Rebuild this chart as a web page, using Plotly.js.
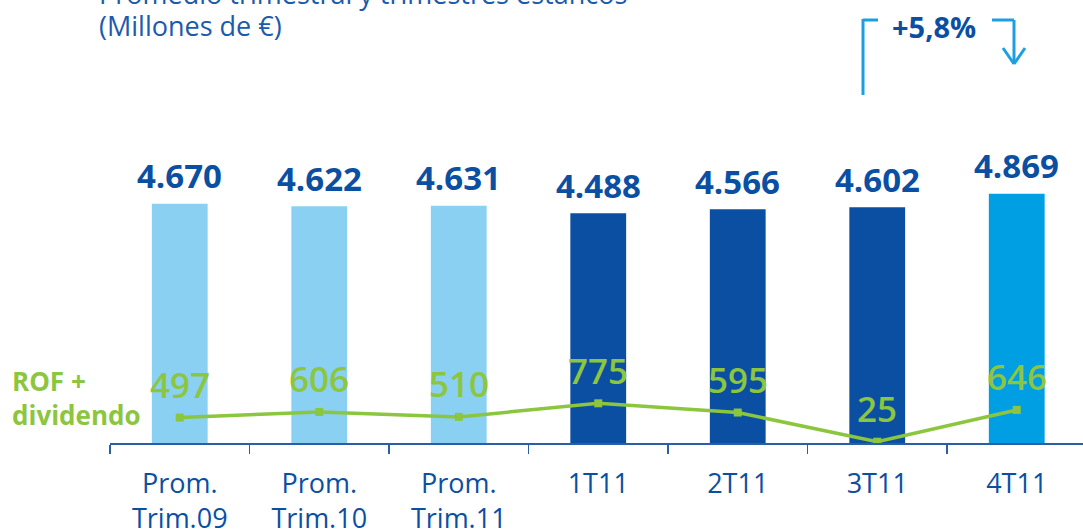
<!DOCTYPE html>
<html><head><meta charset="utf-8">
<script src="https://cdn.plot.ly/plotly-3.0.1.min.js"></script>
<style>html,body{margin:0;padding:0;background:#fff}#chart{width:1083px;height:529px}</style>
</head><body><div id="chart"></div>
<script>
const categories = ["Prom.<br>Trim.09", "Prom.<br>Trim.10", "Prom.<br>Trim.11", "1T11", "2T11", "3T11", "4T11"];
const marginValues = [4670, 4622, 4631, 4488, 4566, 4602, 4869];
const marginLabels = ["4.670", "4.622", "4.631", "4.488", "4.566", "4.602", "4.869"];
const rofValues = [497, 606, 510, 775, 595, 25, 646];
const rofLabels = ["497", "606", "510", "775", "595", "25", "646"];
const barColors = ["#8ad0f2", "#8ad0f2", "#8ad0f2", "#0b4fa3", "#0b4fa3", "#0b4fa3", "#009fe3"];

const W = 1083, H = 529, L = 110, B = 86;
const PW = W - L, PH = H - B;
const px = x => (x - L) / PW;
const py = y => (PH - y) / PH;

const DARK = "#0b4fa3", GREEN = "#8cc63f", LIGHT = "#1aa0e2";
const FONT = "Open Sans, sans-serif";

const bars = {
  type: "bar", x: categories, y: marginValues,
  marker: {color: barColors}, hoverinfo: "skip"
};
const line = {
  type: "scatter", mode: "lines+markers", x: categories, y: rofValues,
  line: {color: GREEN, width: 3.5},
  marker: {symbol: "square", size: 8, color: GREEN}, hoverinfo: "skip"
};

const annotations = [];
categories.forEach((c, i) => {
  annotations.push({x: c, y: marginValues[i], xref: "x", yref: "y", text: marginLabels[i],
    showarrow: false, yanchor: "middle", yshift: 28,
    font: {family: FONT, size: 33, color: DARK, weight: 700}});
  annotations.push({x: c, y: rofValues[i], xref: "x", yref: "y", text: rofLabels[i],
    showarrow: false, yanchor: "middle", yshift: 33,
    font: {family: FONT, size: 35, color: GREEN, weight: 600}});
});
annotations.push({xref: "paper", yref: "paper", x: px(97), y: py(-7), xanchor: "left", yanchor: "middle",
  text: "Promedio trimestral y trimestres estancos", showarrow: false,
  font: {family: FONT, size: 27, color: "#1c5aab"}});
annotations.push({xref: "paper", yref: "paper", x: px(97), y: py(25), xanchor: "left", yanchor: "middle",
  text: "(Millones de €)", showarrow: false,
  font: {family: FONT, size: 27, color: "#1c5aab"}});
annotations.push({xref: "paper", yref: "paper", x: px(10), y: py(398), xanchor: "left", yanchor: "middle",
  align: "left", text: "ROF +<br>dividendo", showarrow: false,
  font: {family: FONT, size: 26, color: GREEN, weight: 700}});
annotations.push({xref: "paper", yref: "paper", x: px(934), y: py(26), xanchor: "center", yanchor: "middle",
  text: "+5,8%", showarrow: false,
  font: {family: FONT, size: 29, color: DARK, weight: 700}});

const seg = (x0, y0, x1, y1) => ({type: "line", xref: "paper", yref: "paper",
  x0: px(x0), y0: py(y0), x1: px(x1), y1: py(y1), line: {color: LIGHT, width: 3}});
const shapes = [
  seg(863, 95, 863, 19), seg(863, 20, 878, 20),
  seg(992, 20, 1014, 20), seg(1014, 20, 1014, 63),
  seg(1003, 48, 1014, 64), seg(1025, 48, 1014, 64)
];

const layout = {
  width: W, height: H,
  margin: {l: L, r: 0, t: 0, b: B, pad: 0},
  paper_bgcolor: "#fff", plot_bgcolor: "#fff",
  showlegend: false, bargap: 0.6,
  font: {family: FONT},
  xaxis: {type: "category", range: [-0.5, 6.475], showline: true, linecolor: "#2a5fa8", linewidth: 1.5,
    ticks: "outside", tickson: "boundaries", ticklen: 9, tickwidth: 1.5, tickcolor: "#2a5fa8",
    ticklabelstandoff: 16,
    showgrid: false, zeroline: false,
    tickfont: {family: FONT, size: 27, color: DARK}, fixedrange: true},
  yaxis: {range: [0, 8650], visible: false, showgrid: false, zeroline: false, fixedrange: true},
  annotations: annotations, shapes: shapes
};
Plotly.newPlot("chart", [bars, line], layout, {staticPlot: true, displayModeBar: false});
</script></body></html>
